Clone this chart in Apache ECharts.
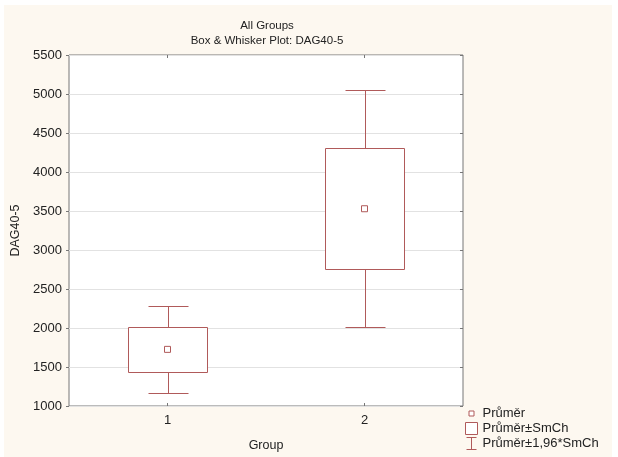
<!DOCTYPE html>
<html>
<head>
<meta charset="utf-8">
<script src="https://cdn.jsdelivr.net/npm/echarts@6/dist/echarts.min.js"></script>
<style>
html,body{margin:0;padding:0;background:#fff;}
#bg{position:absolute;left:4px;top:5px;width:608px;height:452px;background:#fdf8f0;}
#chart{position:absolute;left:0;top:0;width:618px;height:457px;}
</style>
</head>
<body>
<div id="bg"></div>
<div id="chart"></div>
<script>
// Data
var categories = ['1', '2'];
var means = [1726, 3529];
var boxLow = [1439, 2752];      // Průměr - SmCh
var boxHigh = [2013, 4305];     // Průměr + SmCh
var whiskerLow = [1168, 2009];  // Průměr - 1,96*SmCh
var whiskerHigh = [2280, 5053]; // Průměr + 1,96*SmCh
var yTicks = [1000, 1500, 2000, 2500, 3000, 3500, 4000, 4500, 5000, 5500];

var lineColor = '#b05a5a';
var font = 'Liberation Sans, Arial, sans-serif';

var chart = echarts.init(document.getElementById('chart'), null, {renderer: 'canvas'});

var boxData = categories.map(function (c, i) { return [i, boxLow[i], boxHigh[i]]; });
var whiskerData = categories.map(function (c, i) { return [i, whiskerLow[i], whiskerHigh[i]]; });
var meanData = categories.map(function (c, i) { return [i, means[i]]; });

function renderBox(params, api) {
  var lo = api.coord([api.value(0), api.value(1)]);
  var hi = api.coord([api.value(0), api.value(2)]);
  var w = 79;
  return {
    type: 'rect',
    shape: {x: Math.round(lo[0] - w / 2) + 0.5, y: Math.round(hi[1]) + 0.5, width: w, height: Math.round(lo[1] - hi[1])},
    style: {fill: '#fff', stroke: lineColor, lineWidth: 1}
  };
}
function renderWhisker(params, api) {
  var lo = api.coord([api.value(0), api.value(1)]);
  var hi = api.coord([api.value(0), api.value(2)]);
  var cw = 40;
  var x = Math.round(lo[0]) + 0.5;
  var yl = Math.round(lo[1]) + 0.5, yh = Math.round(hi[1]) + 0.5;
  var st = {stroke: lineColor, lineWidth: 1, fill: null};
  return {
    type: 'group',
    children: [
      {type: 'line', shape: {x1: x, y1: yl, x2: x, y2: yh}, style: st},
      {type: 'line', shape: {x1: x - cw / 2, y1: yl, x2: x + cw / 2, y2: yl}, style: st},
      {type: 'line', shape: {x1: x - cw / 2, y1: yh, x2: x + cw / 2, y2: yh}, style: st}
    ]
  };
}

var option = {
  backgroundColor: 'transparent',
  animation: false,
  textStyle: {fontFamily: font},
  title: {
    text: 'All Groups\nBox & Whisker Plot: DAG40-5',
    left: 262,
    top: 13,
    textAlign: 'center',
    textStyle: {fontSize: 11.5, fontWeight: 'normal', color: '#222', lineHeight: 15, fontFamily: font}
  },
  legend: {
    orient: 'vertical',
    left: 465,
    top: 407,
    padding: 0,
    itemWidth: 12,
    itemHeight: 12,
    itemGap: 2,
    selectedMode: false,
    textStyle: {fontSize: 13, color: '#222', fontFamily: font},
    itemStyle: {color: '#fff', borderColor: lineColor, borderWidth: 1},
    data: [
      {name: 'Průměr', icon: 'path://M0,0M12,12M3.5,3.5L8.5,3.5L8.5,8.5L3.5,8.5Z'},
      {name: 'Průměr±SmCh', icon: 'path://M0,0L10,0L10,10L0,10Z'},
      {name: 'Průměr±1,96*SmCh', icon: 'path://M0,0L10,0M5,0L5,12M0,12L10,12'}
    ]
  },
  grid: {
    left: 69, top: 55, width: 394, height: 355,
    show: true, backgroundColor: '#fff', borderColor: '#777', borderWidth: 1
  },
  xAxis: [{
    type: 'category',
    data: categories,
    boundaryGap: true,
    name: 'Group',
    nameLocation: 'middle',
    nameGap: 33,
    nameTextStyle: {fontSize: 12.5, color: '#222', fontFamily: font},
    axisLine: {show: false},
    axisTick: {show: true, inside: true, alignWithLabel: true, length: 3, lineStyle: {color: '#777'}},
    axisLabel: {fontSize: 13, color: '#222', margin: 8, fontFamily: font},
    splitLine: {show: false}
  }, {
    type: 'category',
    data: categories,
    position: 'top',
    boundaryGap: true,
    axisLine: {show: false},
    axisTick: {show: true, inside: true, alignWithLabel: true, length: 3, lineStyle: {color: '#777'}},
    axisLabel: {show: false}
  }],
  yAxis: [{
    type: 'value',
    min: yTicks[0],
    max: yTicks[yTicks.length - 1],
    interval: 500,
    name: 'DAG40-5',
    nameLocation: 'middle',
    nameGap: 37,
    nameTextStyle: {fontSize: 12.5, color: '#222', fontFamily: font},
    axisLine: {show: false},
    axisTick: {show: true, length: 3, lineStyle: {color: '#777'}},
    axisLabel: {fontSize: 13, color: '#222', margin: 7, fontFamily: font, formatter: function (v) { return String(v); }},
    splitLine: {show: true, lineStyle: {color: '#e2e2e2', width: 1}}
  }, {
    type: 'value',
    min: yTicks[0],
    max: yTicks[yTicks.length - 1],
    interval: 500,
    position: 'right',
    axisLine: {show: false},
    axisTick: {show: true, inside: true, length: 3, lineStyle: {color: '#777'}},
    axisLabel: {show: false},
    splitLine: {show: false}
  }],
  series: [{
    name: 'Průměr±1,96*SmCh',
    type: 'custom',
    renderItem: renderWhisker,
    itemStyle: {color: lineColor},
    encode: {x: 0, y: [1, 2]},
    data: whiskerData,
    z: 2
  }, {
    name: 'Průměr±SmCh',
    type: 'custom',
    renderItem: renderBox,
    itemStyle: {color: lineColor},
    encode: {x: 0, y: [1, 2]},
    data: boxData,
    z: 3
  }, {
    name: 'Průměr',
    type: 'scatter',
    symbol: 'rect',
    symbolSize: 6,
    itemStyle: {color: '#fff', borderColor: lineColor, borderWidth: 1, opacity: 1},
    data: meanData,
    z: 4
  }]
};
chart.setOption(option);
</script>
</body>
</html>
